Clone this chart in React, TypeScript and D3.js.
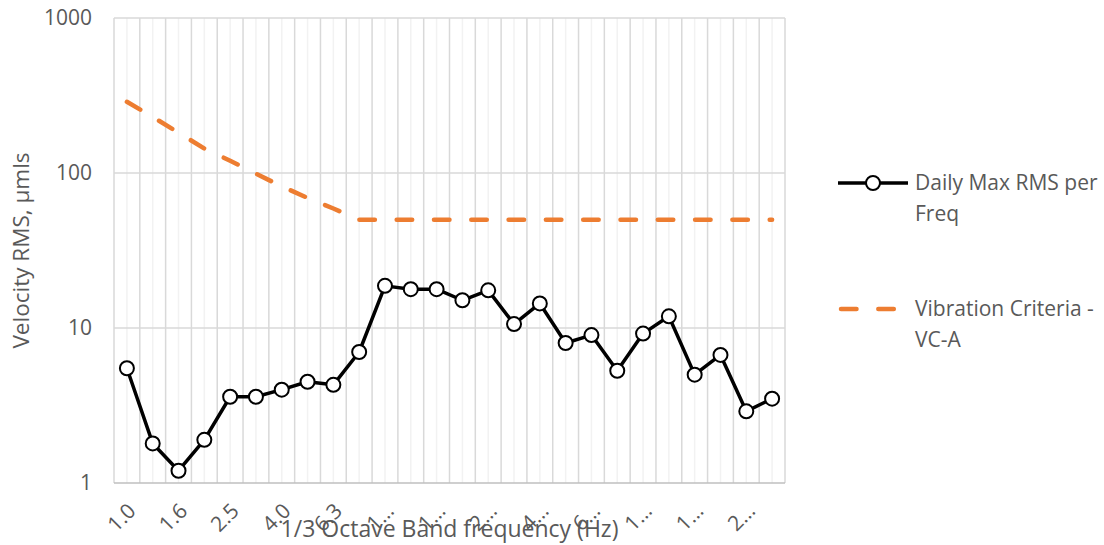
import * as d3 from "d3";
import React from "react";

const width = 1104;
const height = 545;

// 1/3 octave band centre frequencies (Hz), as shown on the axis
const bands = [
  "1.0", "1.25", "1.6", "2.0", "2.5", "3.15", "4.0", "5.0", "6.3", "8.0",
  "10.0", "12.5", "16.0", "20.0", "25.0", "31.5", "40.0", "50.0", "63.0", "80.0",
  "100.0", "125.0", "160.0", "200.0", "250.0", "315.0",
];
const dailyMax = [
  5.5, 1.8, 1.2, 1.9, 3.6, 3.6, 4.0, 4.5, 4.3, 7.0,
  18.7, 17.8, 17.8, 15.1, 17.5, 10.6, 14.4, 8.0, 9.0, 5.3,
  9.2, 11.9, 5.0, 6.7, 2.9, 3.5,
];
const vcA = [
  288, 230, 182, 144, 120, 99, 82, 69, 59, 50,
  50, 50, 50, 50, 50, 50, 50, 50, 50, 50,
  50, 50, 50, 50, 50, 50,
];
const yTicks = [1, 10, 100, 1000];

const margin = { left: 114, right: 785, top: 18, bottom: 483 };
const font = "'Open Sans', sans-serif";
const textColor = "#595959";

// Excel-like truncation of long category labels
const shortLabel = (s: string) => (s.length > 3 ? s[0] + "…" : s);

export default function App() {
  const x = d3
    .scaleBand<number>()
    .domain(d3.range(bands.length))
    .range([margin.left, margin.right]);
  const bw = x.bandwidth();
  const cx = (i: number) => (x(i) as number) + bw / 2;
  const y = d3.scaleLog().domain([1, 1000]).range([margin.bottom, margin.top]);

  const line = d3
    .line<number>()
    .x((_, i) => cx(i))
    .y((d) => y(d));

  return (
    <svg
      width={width}
      height={height}
      style={{ position: "absolute", left: 0, top: 0, background: "#fff" }}
      fontFamily={font}
    >
      {/* minor vertical gridlines at category centres */}
      {bands.map((_, i) => (
        <line
          key={"mn" + i}
          x1={cx(i)}
          x2={cx(i)}
          y1={margin.top}
          y2={margin.bottom}
          stroke="#f2f2f2"
          strokeWidth={1.5}
        />
      ))}
      {/* major vertical gridlines at category boundaries */}
      {d3.range(bands.length + 1).map((i) => {
        const xx = margin.left + i * bw;
        return (
          <line
            key={"mj" + i}
            x1={xx}
            x2={xx}
            y1={margin.top}
            y2={margin.bottom}
            stroke="#d9d9d9"
            strokeWidth={1.5}
          />
        );
      })}
      {/* horizontal gridlines */}
      {yTicks.map((t) => (
        <line
          key={"h" + t}
          x1={margin.left}
          x2={margin.right}
          y1={y(t)}
          y2={y(t)}
          stroke={t === 1 ? "#bfbfbf" : "#d9d9d9"}
          strokeWidth={1.5}
        />
      ))}

      {/* y tick labels */}
      {yTicks.map((t) => (
        <text
          key={"yt" + t}
          x={margin.left - 22}
          y={y(t)}
          dy="0.35em"
          textAnchor="end"
          fontSize={21}
          fill={textColor}
        >
          {t}
        </text>
      ))}

      {/* x tick labels, every other category */}
      {bands.map((b, i) =>
        i % 2 === 0 ? (
          <text
            key={"xt" + i}
            transform={`translate(${cx(i) + 5},${margin.bottom + 24}) rotate(-45)`}
            textAnchor="end"
            dy="0.35em"
            fontSize={21}
            fill={textColor}
          >
            {shortLabel(b)}
          </text>
        ) : null
      )}

      {/* VC-A criterion */}
      <path
        d={line(vcA) || ""}
        fill="none"
        stroke="#ED7D31"
        strokeWidth={4.5}
        strokeLinecap="round"
        strokeDasharray="15.5 21.8"
      />

      {/* measured series */}
      <path
        d={line(dailyMax) || ""}
        fill="none"
        stroke="#000"
        strokeWidth={3.5}
        strokeLinejoin="round"
      />
      {dailyMax.map((d, i) => (
        <circle
          key={"p" + i}
          cx={cx(i)}
          cy={y(d)}
          r={7}
          fill="#fff"
          stroke="#000"
          strokeWidth={2}
        />
      ))}

      {/* axis titles */}
      <text
        x={(margin.left + margin.right) / 2}
        y={537}
        textAnchor="middle"
        fontSize={23}
        fill={textColor}
      >
        1/3 Octave Band frequency (Hz)
      </text>
      <text
        transform={`translate(29,${(margin.top + margin.bottom) / 2}) rotate(-90)`}
        textAnchor="middle"
        fontSize={22.5}
        fill={textColor}
      >
        Velocity RMS, µmls
      </text>

      {/* legend */}
      <g fill={textColor} fontSize={21}>
        <line x1={838} x2={908} y1={183} y2={183} stroke="#000" strokeWidth={3.5} />
        <circle cx={873} cy={183} r={7} fill="#fff" stroke="#000" strokeWidth={2} />
        <text x={915} y={183} dy="0.35em">Daily Max RMS per</text>
        <text x={915} y={214} dy="0.35em">Freq</text>

        <line
          x1={841}
          x2={896}
          y1={309}
          y2={309}
          stroke="#ED7D31"
          strokeWidth={4.5}
          strokeLinecap="round"
          strokeDasharray="15.5 21.8"
        />
        <text x={915} y={309} dy="0.35em">Vibration Criteria -</text>
        <text x={915} y={340} dy="0.35em">VC-A</text>
      </g>
    </svg>
  );
}
